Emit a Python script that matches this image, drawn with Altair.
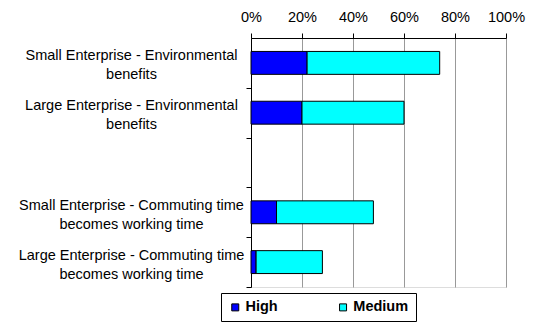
import altair as alt
import pandas as pd

# Categories (use "|" as line break; "~" is the empty spacer row)
categories = [
    "Small Enterprise - Environmental|benefits",
    "Large Enterprise - Environmental|benefits",
    "~",
    "Small Enterprise - Commuting time|becomes working time",
    "Large Enterprise - Commuting time|becomes working time",
]
series = ["High", "Medium"]
high = [22, 20, None, 10, 2]
medium = [52, 40, None, 38, 26]
tick_values = [0, 20, 40, 60, 80, 100]
colors = ["#0000FF", "#00FFFF"]

rows = []
for cat, h, m in zip(categories, high, medium):
    if h is None:
        continue
    rows.append({"cat": cat, "series": "High", "value": h, "ord": 0})
    rows.append({"cat": cat, "series": "Medium", "value": m, "ord": 1})
df = pd.DataFrame(rows)

FONT = "Liberation Sans"
FS = 14.5
NB = "\u00a0" * 4
STEP_HALF = 24.9

chart = alt.Chart(df).mark_bar(stroke="black", strokeWidth=1).encode(
    y=alt.Y(
        "cat:N",
        scale=alt.Scale(domain=categories, paddingInner=0.54, paddingOuter=0.27),
        axis=alt.Axis(
            title=None,
            labelExpr="datum.label == '~' ? '' : split(datum.label, '|')",
            labelAlign="center",
            labelPadding=115,
            labelOffset=-7 - STEP_HALF,
            labelLineHeight=19,
            labelFont=FONT,
            labelFontSize=FS,
            labelColor="black",
            labelLimit=400,
            tickOffset=STEP_HALF,
            tickSize=5,
            tickColor="black",
            domainColor="black",
            grid=False,
        ),
    ),
    x=alt.X(
        "value:Q",
        stack="zero",
        scale=alt.Scale(domain=[0, 100], nice=False),
        axis=alt.Axis(
            title=None,
            orient="top",
            values=tick_values,
            labelExpr="datum.value + '%'",
            labelFlush=False,
            labelFont=FONT,
            labelFontSize=FS,
            labelColor="black",
            labelPadding=9,
            tickSize=5,
            tickColor="black",
            domainColor="black",
            grid=True,
            gridColor="#999999",
        ),
    ),
    color=alt.Color(
        "series:N",
        scale=alt.Scale(domain=series, range=colors),
        legend=alt.Legend(
            title=None,
            orient="none",
            legendX=-30,
            legendY=255,
            direction="horizontal",
            symbolType="square",
            symbolSize=49,
            symbolStrokeColor="black",
            symbolStrokeWidth=1,
            labelFont=FONT,
            labelFontSize=FS,
            labelFontWeight="bold",
            labelColor="black",
            labelOffset=3,
            columnPadding=57.8,
            padding=7,
            strokeColor="black",
            fillColor="white",
            labelExpr="datum.label == 'Medium' ? 'Medium" + NB + "' : datum.label",
        ),
    ),
    order=alt.Order("ord:Q"),
).properties(
    width=255,
    height=249,
    autosize=alt.AutoSizeParams(type="none"),
    padding={"left": 251, "top": 38, "right": 27, "bottom": 36},
    background="white",
).configure_view(stroke="black", strokeWidth=1).configure(font=FONT)

chart.save("out.html", embed_options={"renderer": "svg", "actions": False})
